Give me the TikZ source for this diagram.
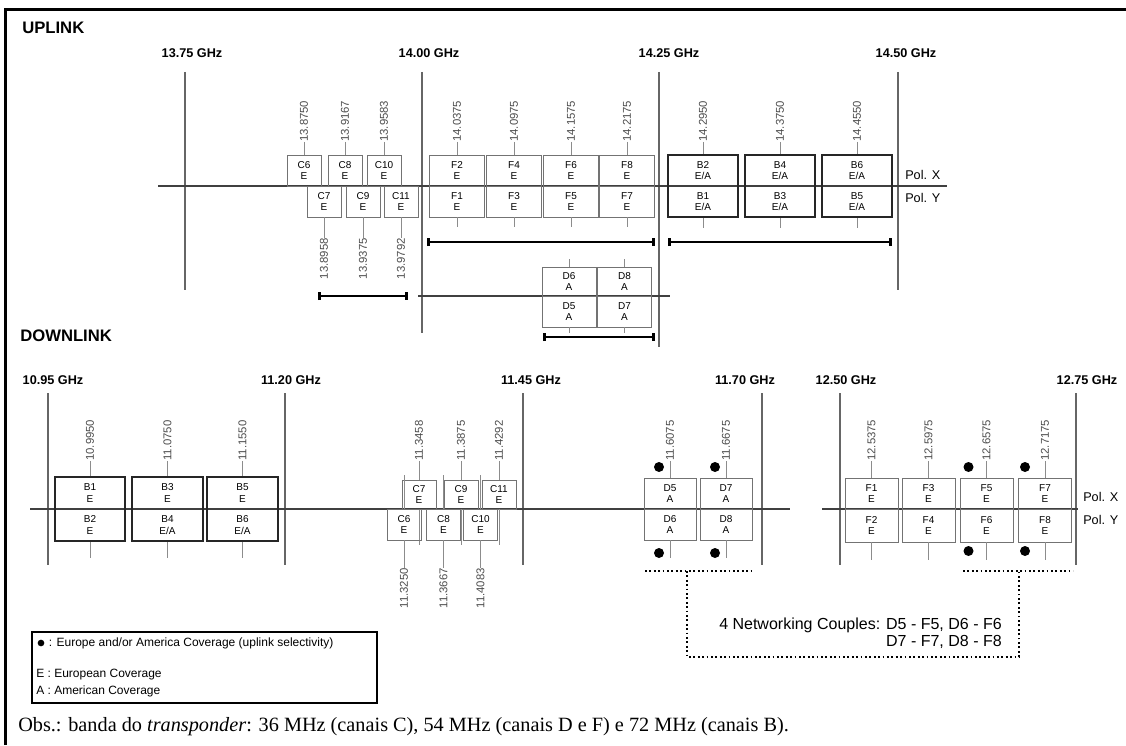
\documentclass[tikz,border=0pt]{standalone}
\usepackage{fontspec}
\setmainfont{Liberation Serif}
\setsansfont{Liberation Sans}
\usetikzlibrary{positioning,arrows.meta,fit}
\newlength\pxu
\setlength\pxu{0.75pt}
\tikzset{
  cw/.style={minimum width=#1*\pxu},
  ch/.style={minimum height=#1*\pxu},
  ghz/.style={font=\sffamily\bfseries\fontsize{9.5}{11}\selectfont, inner sep=0pt},
  title/.style={font=\sffamily\bfseries\fontsize{12.5}{14}\selectfont, anchor=west, inner sep=0pt},
  bandline/.style={draw=black!60, line width=1pt},
  axis/.style={draw=black!75, line width=0.9pt},
  chan/.style={draw=black!55, line width=0.6pt, inner sep=0pt, align=center,
               font=\sffamily\fontsize{7.5}{8.5}\selectfont},
  bchan/.style={chan, draw=none},
  bframe/.style={draw=black!85, line width=1.6pt, inner sep=0pt},
  freq/.style={rotate=90, font=\sffamily\fontsize{8.5}{9}\selectfont, inner sep=0pt, text=black!70},
  stem/.style={draw=black!45, line width=0.5pt},
  span/.style={{Bar[width=6pt]}-{Bar[width=6pt]}, line width=2pt},
  net/.style={draw, dotted, line width=1.3pt},
  dot/.style={circle, fill, inner sep=0pt, minimum size=7.5pt},
  pol/.style={font=\sffamily\fontsize{9.5}{10}\selectfont, anchor=west, inner sep=0pt},
  legtext/.style={font=\sffamily\fontsize{9}{10}\selectfont, anchor=west, inner sep=0pt},
}

\begin{document}
\begin{tikzpicture}[x=0.75pt, y=-0.75pt]
  \useasboundingbox (0,0) rectangle (1126,745);
  \draw[line width=2.3pt] (5.5,745) |- (1126,9.5);

  \node[title] (up) at (22,28) {UPLINK};
  \node[title] (down) at (20,336) {DOWNLINK};

  % uplink band edges
  \foreach \f/\x/\yb/\lx in {13.75/185/290/192, 14.00/422/333/429, 14.25/659/347/669, 14.50/898/290/906} {
    \node[ghz] (ug\x) at (\lx,53) {\f\ GHz};
    \draw[bandline] (\x,72) -- (\x,\yb);
  }
  \draw[axis] (158,186) -- (947,186);
  \node[pol] (upx) at (905,175) {Pol. X};
  \node[pol] (upy) at (905,198) {Pol. Y};

  % uplink C channels
  \foreach \n/\x/\f in {6/304/13.8750, 8/345/13.9167, 10/384/13.9583} {
    \node[chan, cw=34, ch=31] (uC\n) at (\x,170.5) {C\n\\E};
    \node[freq, anchor=west] (uCf\n) at (\x,142) {\f};
    \draw[stem] (uCf\n.west) -- (uC\n.north);
  }
  \foreach \n/\x/\f in {7/324/13.8958, 9/363/13.9375, 11/401/13.9792} {
    \node[chan, cw=34, ch=31] (uC\n) at (\x,201.5) {C\n\\E};
    \node[freq, anchor=east] (uCf\n) at (\x,238) {\f};
    \draw[stem] (uC\n.south) -- (uCf\n.east);
  }
  \coordinate (uCl) at (318,296);
  \coordinate (uCr) at (408,296);
  \draw[span] (uCl) -- (uCr);

  % uplink F channels
  \foreach \t/\b/\x/\f in {2/1/457/14.0375, 4/3/514/14.0975, 6/5/571/14.1575, 8/7/627/14.2175} {
    \node[chan, cw=55, ch=31] (uF\t) at (\x,170.5) {F\t\\E};
    \node[chan, cw=55, ch=31] (uF\b) at (\x,201.5) {F\b\\E};
    \node[freq, anchor=west] (uFf\t) at (\x,142) {\f};
    \draw[stem] (uFf\t.west) -- (uF\t.north);
    \draw[stem] (uF\b.south) -- ++(0,10);
  }
  \coordinate (uFl) at (427,242);
  \coordinate (uFr) at (655,242);
  \draw[span] (uFl) -- (uFr);

  % uplink B channels
  \foreach \t/\b/\x/\f in {2/1/703/14.2950, 4/3/780/14.3750, 6/5/857/14.4550} {
    \node[bchan, cw=70, ch=31] (uB\t) at (\x,170.5) {B\t\\E/A};
    \node[bchan, cw=70, ch=31] (uB\b) at (\x,201.5) {B\b\\E/A};
    \node[bframe, fit=(uB\t)(uB\b)] (uB\t\b) {};
    \node[freq, anchor=west] (uBf\t) at (\x,142) {\f};
    \draw[stem] (uBf\t.west) -- (uB\t\b.north);
    \draw[stem] (uB\t\b.south) -- ++(0,10);
  }
  \coordinate (uBl) at (668,242);
  \coordinate (uBr) at (892,242);
  \draw[span] (uBl) -- (uBr);

  % uplink D channels
  \draw[axis] (418,296) -- (670,296);
  \foreach \t/\b/\x in {6/5/569, 8/7/624.5} {
    \node[chan, cw=54, ch=29] (uD\t) at (\x,281.5) {D\t\\A};
    \node[chan, cw=54, ch=31] (uD\b) at (\x,311.5) {D\b\\A};
    \draw[stem] (uD\t.north) -- ++(0,-8);
    \draw[stem] (uD\b.south) -- ++(0,6);
  }
  \coordinate (uDl) at (543,337);
  \coordinate (uDr) at (655,337);
  \draw[span] (uDl) -- (uDr);

  % downlink band edges
  \foreach \f/\x/\lx in {10.95/48/53, 11.20/285/291, 11.45/523/531, 11.70/762/745, 12.50/840/846, 12.75/1076/1087} {
    \node[ghz] (dg\x) at (\lx,380) {\f\ GHz};
    \draw[bandline] (\x,393) -- (\x,565);
  }
  \draw[axis] (30,509) -- (790,509);
  \draw[axis] (822,509) -- (1078,509);
  \node[pol] (dpx) at (1083,497) {Pol. X};
  \node[pol] (dpy) at (1083,520) {Pol. Y};

  % downlink B channels
  \foreach \t/\b/\x/\f/\cb in {1/2/90/10.9950/E, 3/4/167.5/11.0750/{E/A}, 5/6/242.5/11.1550/{E/A}} {
    \node[bchan, cw=70, ch=32] (dB\t) at (\x,493) {B\t\\E};
    \node[bchan, cw=70, ch=32] (dB\b) at (\x,525) {B\b\\\cb};
    \node[bframe, fit=(dB\t)(dB\b)] (dB\t\b) {};
    \node[freq, anchor=west] (dBf\t) at (\x,461) {\f};
    \draw[stem] (dBf\t.west) -- (dB\t\b.north);
    \draw[stem] (dB\t\b.south) -- ++(0,16);
  }

  % downlink C channels
  \foreach \n/\x/\f in {7/419/11.3458, 9/461/11.3875, 11/499/11.4292} {
    \node[chan, cw=34, ch=29] (dC\n) at (\x,494.5) {C\n\\E};
    \node[freq, anchor=west] (dCf\n) at (\x,461) {\f};
    \draw[stem] (dCf\n.west) -- (dC\n.north);
    \draw[stem] (dC\n.south) -- ++(0,36);
  }
  \foreach \n/\x/\f in {6/404/11.3250, 8/443.5/11.3667, 10/480.5/11.4083} {
    \node[chan, cw=34, ch=31] (dC\n) at (\x,524.5) {C\n\\E};
    \node[freq, anchor=east] (dCf\n) at (\x,568) {\f};
    \draw[stem] (dC\n.south) -- (dCf\n.east);
    \draw[stem] (dC\n.north) -- ++(0,-34);
  }

  % downlink D channels
  \foreach \t/\b/\x/\f in {5/6/670/11.6075, 7/8/726/11.6675} {
    \node[chan, cw=52, ch=31] (dD\t) at (\x,493.5) {D\t\\A};
    \node[chan, cw=52, ch=31] (dD\b) at (\x,524.5) {D\b\\A};
    \node[freq, anchor=west] (dDf\t) at (\x,461) {\f};
    \draw[stem] (dDf\t.west) -- (dD\t.north);
    \draw[stem] (dD\b.south) -- ++(0,18);
    \node[dot] (kD\t) at (\x-11,467) {};
    \node[dot] (kD\b) at (\x-11,553) {};
  }

  % downlink F channels
  \foreach \t/\b/\x/\f in {1/2/871.5/12.5375, 3/4/928.5/12.5975, 5/6/986.5/12.6575, 7/8/1045/12.7175} {
    \node[chan, cw=53, ch=31] (dF\t) at (\x,493.5) {F\t\\E};
    \node[chan, cw=53, ch=33] (dF\b) at (\x,525.5) {F\b\\E};
    \node[freq, anchor=west] (dFf\t) at (\x,461) {\f};
    \draw[stem] (dFf\t.west) -- (dF\t.north);
    \draw[stem] (dF\b.south) -- ++(0,18);
  }
  \foreach \t/\b/\x in {5/6/968.5, 7/8/1025} {
    \node[dot] (kF\t) at (\x,467) {};
    \node[dot] (kF\b) at (\x,551) {};
  }

  % networking couples
  \coordinate (nDl) at (645,571);
  \coordinate (nDr) at (753,571);
  \coordinate (nFl) at (963,571);
  \coordinate (nFr) at (1073,571);
  \coordinate (nD) at (687,571);
  \coordinate (nF) at (1019,571);
  \coordinate (nC) at (1019,657);
  \draw[net] (nDl) -- (nDr);
  \draw[net] (nFl) -- (nFr);
  \draw[net] (nD) |- (nC) -- (nF);
  \node[font=\sffamily\fontsize{12}{13}\selectfont, align=right, anchor=east, inner sep=0pt]
    (netlbl) at (1002,633) {4 Networking Couples: D5 - F5, D6 - F6\\D7 - F7, D8 - F8};

  % legend
  \node[draw, line width=1.5pt, cw=345, ch=71, inner sep=0pt] (legend) at (204.5,667.5) {};
  \node[dot, minimum size=5pt] (legdot) at (41,643) {};
  \node[legtext, right=3pt of legdot] (legM) {: Europe and/or America Coverage (uplink selectivity)};
  \node[legtext] (legE) at (36,675) {E : European Coverage};
  \node[legtext] (legA) at (36,691) {A : American Coverage};

  \node[anchor=west, inner sep=0pt, font=\fontsize{15.2}{17}\selectfont] (obs) at (18,727)
    {Obs.: banda do \textit{transponder}: 36 MHz (canais C), 54 MHz (canais D e F) e 72 MHz (canais B).};
\end{tikzpicture}
\end{document}
